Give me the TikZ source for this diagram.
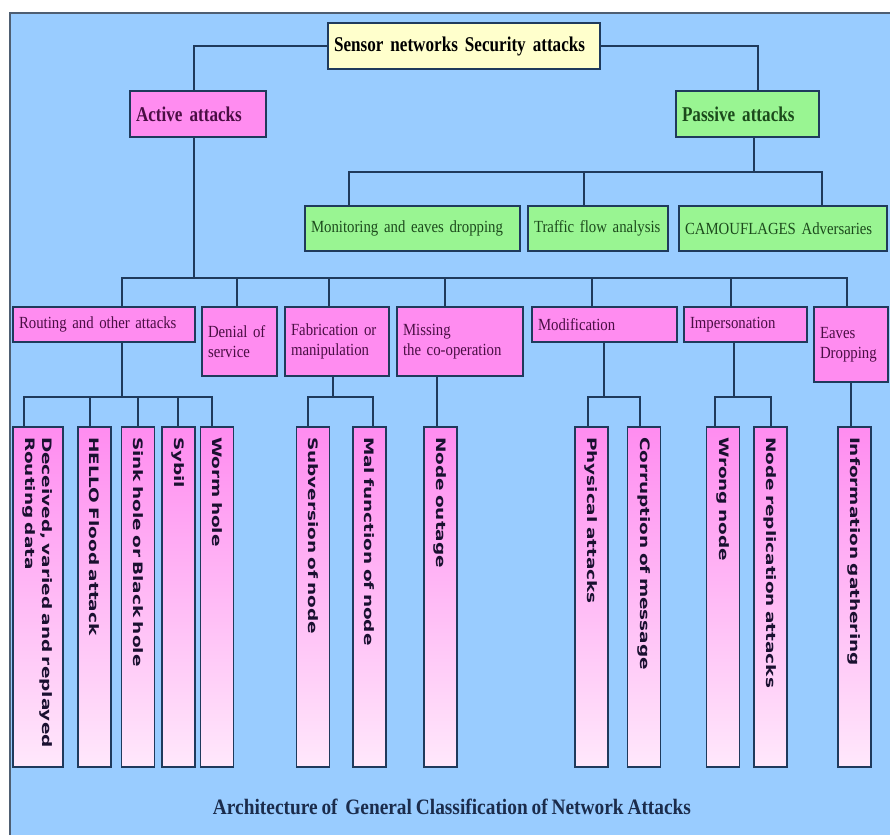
\documentclass[tikz,border=0pt]{standalone}
\usepackage{fontspec}
\setmainfont{Liberation Serif}
\newfontfamily\headfont[FakeStretch=0.815,WordSpace=0.75]{Liberation Serif}
\newfontfamily\midfont[FakeStretch=0.87,WordSpace=0.8]{Liberation Serif}
\newfontfamily\capfont[FakeStretch=0.88,WordSpace=0.8]{Liberation Serif}
\newfontfamily\leaffont[FakeStretch=1.42]{DejaVu Sans}
\definecolor{skyback}{HTML}{99CCFF}
\definecolor{navyline}{HTML}{1F3A5C}
\definecolor{framegray}{HTML}{4E5E72}
\definecolor{pinkfill}{HTML}{FF8CF0}
\definecolor{leafpale}{HTML}{FFE8FB}
\definecolor{greenfill}{HTML}{99F592}
\definecolor{yellowfill}{HTML}{FFFFCC}
\definecolor{plumtext}{HTML}{4A0E44}
\definecolor{greentext}{HTML}{1C4A1C}
\definecolor{leaftext}{HTML}{1A1030}
\definecolor{captiontext}{HTML}{1B2C4C}

\begin{document}
\begin{tikzpicture}[
  x=1pt,y=-1pt,
  box/.style={draw=navyline,line width=1.6pt,inner xsep=6pt,inner ysep=2pt,
              outer sep=0pt,anchor=north west,align=left},
  rootbox/.style={box,fill=yellowfill,text=black,
                  font=\headfont\fontsize{21}{24}\selectfont\bfseries},
  headpink/.style={box,fill=pinkfill,text=plumtext,
                   font=\headfont\fontsize{21}{24}\selectfont\bfseries},
  headgreen/.style={box,fill=greenfill,text=greentext,
                    font=\headfont\fontsize{21}{24}\selectfont\bfseries},
  midgreen/.style={box,fill=greenfill,text=greentext,
                   font=\midfont\fontsize{17}{20}\selectfont},
  midpink/.style={box,fill=pinkfill,text=plumtext,
                  font=\midfont\fontsize{17}{20}\selectfont},
  leaf/.style={draw=navyline,line width=1.4pt,rotate=-90,anchor=west,
               top color=pinkfill,bottom color=leafpale,outer sep=0pt,
               minimum height=33pt,text width=320pt,inner xsep=10pt,
               inner ysep=1pt,align=left,text=leaftext,
               font=\leaffont\fontsize{13}{17}\selectfont\bfseries},
  link/.style={draw=navyline,line width=1.4pt},
  caption/.style={text=captiontext,font=\capfont\fontsize{22}{24}\selectfont\bfseries}
]
\useasboundingbox (0,0) rectangle (890,835);

% Frame.
\fill[white] (0,0) rectangle (890,835);
\fill[skyback] (10,13) rectangle (890,835);
\draw[framegray,line width=1.6pt] (10,835) -- (10,13) -- (890,13);

% -------------------------------------------------------------------------
% Top levels.
\node[rootbox,text width=260pt,minimum height=46pt] (root) at (328,23)
  {Sensor networks Security attacks};
\node[headpink,text width=124pt,minimum height=46pt] (active) at (130,91)
  {Active attacks};
\node[headgreen,text width=131pt,minimum height=46pt] (passive) at (676,91)
  {Passive attacks};
\draw[link] (root.west) -| (active.north -| 194,0);
\draw[link] (root.east) -| (passive.north -| 758,0);

% Passive branch.
\node[midgreen,text width=203pt,minimum height=45pt] (monitor) at (305,206)
  {Monitoring and eaves dropping};
\node[midgreen,text width=128pt,minimum height=45pt] (traffic) at (528,206)
  {Traffic flow analysis};
\node[midgreen,text width=196pt,minimum height=45pt] (camou) at (679,206)
  {CAMOUFLAGES Adversaries};
\coordinate (pjoin) at (754,172);
\draw[link] (passive.south -| pjoin) -- (pjoin);
\draw[link] (monitor.north -| 349,0) |- (pjoin) -| (camou.north -| 822,0);
\draw[link] (traffic.north -| 584,0) -- ++(0,-34);

% -------------------------------------------------------------------------
% Active branch.
\node[midpink,text width=170pt,minimum height=35pt] (routing) at (13,307)
  {Routing and other attacks};
\node[midpink,text width=63pt,minimum height=69pt] (denial) at (202,307)
  {Denial of\\service};
\node[midpink,text width=92pt,minimum height=69pt] (fabric) at (285,307)
  {Fabrication or\\manipulation};
\node[midpink,text width=114pt,minimum height=69pt] (missing) at (397,307)
  {Missing\\the co-operation};
\node[midpink,text width=133pt,minimum height=35pt] (modif) at (532,307)
  {Modification};
\node[midpink,text width=111pt,minimum height=35pt] (imper) at (684,307)
  {Impersonation};
\node[midpink,text width=62pt,minimum height=75pt] (eaves) at (814,307)
  {Eaves\\Dropping};

\coordinate (ajoin) at (194,278);
\draw[link] (active.south -| ajoin) -- (ajoin);
\draw[link] (routing.north -| 122,0) -- ++(0,-29) -| (eaves.north -| 847,0);
\foreach \n/\x in {denial/237,fabric/329,missing/445,modif/592,imper/731}
  \draw[link] (\n.north -| \x,0) -- ++(0,-29);

% -------------------------------------------------------------------------
% Leaves.
\node[leaf,minimum height=50pt] (deceived) at (38,427)
  {Deceived, varied and replayed\\Routing data};
\node[leaf] (hello) at (94.5,427) {HELLO Flood attack};
\node[leaf] (sink) at (138,427) {Sink hole or Black hole};
\node[leaf] (sybil) at (178.5,427) {Sybil};
\node[leaf] (worm) at (217,427) {Worm hole};
\node[leaf] (subv) at (313,427) {Subversion of node};
\node[leaf] (malf) at (369.5,427) {Mal function of node};
\node[leaf] (outage) at (440.5,427) {Node outage};
\node[leaf] (phys) at (591.5,427) {Physical attacks};
\node[leaf] (corrupt) at (644,427) {Corruption of message};
\node[leaf] (wrong) at (723,427) {Wrong node};
\node[leaf] (replic) at (770.5,427) {Node replication attacks};
\node[leaf] (info) at (854.5,427) {Information gathering};

\draw[link] (routing.south -| 122,0) -- ++(0,55);
\draw[link] (deceived.west -| 24,0) -- ++(0,-30) -| (worm.west -| 212,0);
\foreach \n/\x in {hello/90,sink/138,sybil/178}
  \draw[link] (\n.west -| \x,0) -- ++(0,-30);

\draw[link] (fabric.south -| 333,0) -- ++(0,21);
\draw[link] (subv.west -| 308,0) -- ++(0,-30) -| (malf.west -| 373,0);
\draw[link] (missing.south -| 437,0) -- (outage.west -| 437,0);

\draw[link] (modif.south -| 604,0) -- ++(0,55);
\draw[link] (phys.west -| 588,0) -- ++(0,-30) -| (corrupt.west -| 640,0);
\draw[link] (imper.south -| 734,0) -- ++(0,55);
\draw[link] (wrong.west -| 715,0) -- ++(0,-30) -| (replic.west -| 771,0);
\draw[link] (eaves.south -| 851,0) -- (info.west -| 851,0);

% Caption.
\node[caption] (title) at (452,807)
  {Architecture of~ General Classification of Network Attacks};

\end{tikzpicture}
\end{document}
